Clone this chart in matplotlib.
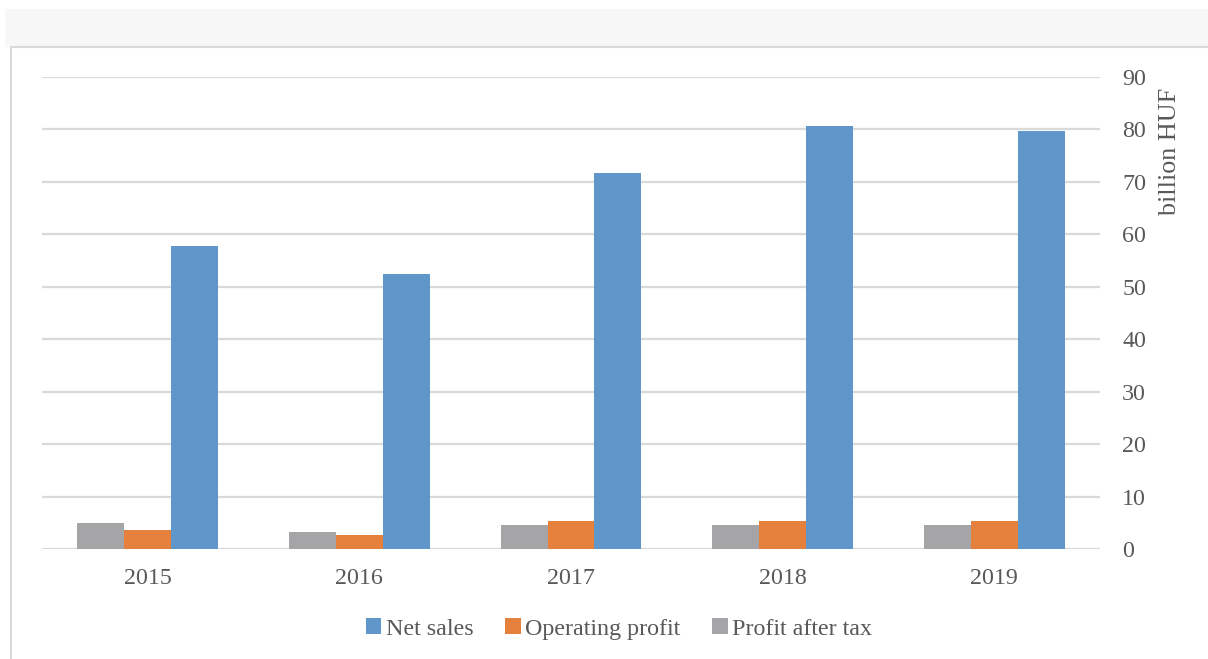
import matplotlib.pyplot as plt
from matplotlib import patches
import numpy as np

# Company results by year (billion HUF)
years = ["2015", "2016", "2017", "2018", "2019"]
net_sales = [57.8, 52.4, 71.7, 80.7, 79.7]
operating_profit = [3.6, 2.7, 5.4, 5.4, 5.4]
profit_after_tax = [5.0, 3.2, 4.6, 4.5, 4.5]
y_ticks = [0, 10, 20, 30, 40, 50, 60, 70, 80, 90]

blue = "#5f97cb"
orange = "#e5803d"
grey = "#a5a5a8"
text_col = "#595959"
grid_col = "#d9d9d9"
fs = 17.3

plt.rcParams["font.family"] = ["Liberation Serif", "DejaVu Serif"]

W, H = 1208, 659
fig = plt.figure(figsize=(W / 100, H / 100), dpi=100)
fig.patch.set_facecolor("white")

# grey band and chart frame
fig.patches.append(patches.Rectangle((5 / W, 1 - 47 / H), 1, 38 / H, transform=fig.transFigure,
                                     facecolor="#f7f7f7", edgecolor="none", zorder=0))
fig.patches.append(patches.Rectangle((11 / W, -0.1), 1.1, 1 - 47 / H + 0.1, transform=fig.transFigure,
                                     facecolor="white", edgecolor=grid_col, linewidth=1.5, zorder=0))

ax = fig.add_axes([42 / W, 1 - 549 / H, (1100 - 42) / W, (549 - 77) / H])
ax.set_zorder(2)
ax.set_facecolor("none")

x = np.arange(len(years))
w = 0.222
ax.bar(x - w, profit_after_tax, w, color=grey, label="Profit after tax", zorder=3)
ax.bar(x, operating_profit, w, color=orange, label="Operating profit", zorder=3)
ax.bar(x + w, net_sales, w, color=blue, label="Net sales", zorder=3)

ax.set_xlim(-0.5, len(years) - 0.5)
ax.set_ylim(0, 90)
ax.set_yticks(y_ticks)
ax.yaxis.tick_right()
ax.grid(axis="y", color=grid_col, linewidth=1.6, zorder=0)
ax.set_xticks(x)
ax.set_xticklabels(years)
ax.tick_params(axis="both", length=0, labelsize=fs, labelcolor=text_col)
ax.tick_params(axis="y", pad=16)
ax.tick_params(axis="x", pad=14)
for s in ax.spines.values():
    s.set_visible(False)

fig.text(1170 / W, 1 - 151 / H, "billion HUF", rotation=90, ha="center", va="center",
         fontsize=18.8, color=text_col, zorder=3)

handles, labels = ax.get_legend_handles_labels()
leg = fig.legend(handles[::-1], labels[::-1], loc="center", bbox_to_anchor=(619 / W, 1 - 629 / H),
                 ncol=3, frameon=False, fontsize=fs, handlelength=0.65, handleheight=0.65,
                 handletextpad=0.2, columnspacing=1.3)
leg.set_zorder(3)
for t in leg.get_texts():
    t.set_color(text_col)

fig.savefig("out.png", dpi=100)
